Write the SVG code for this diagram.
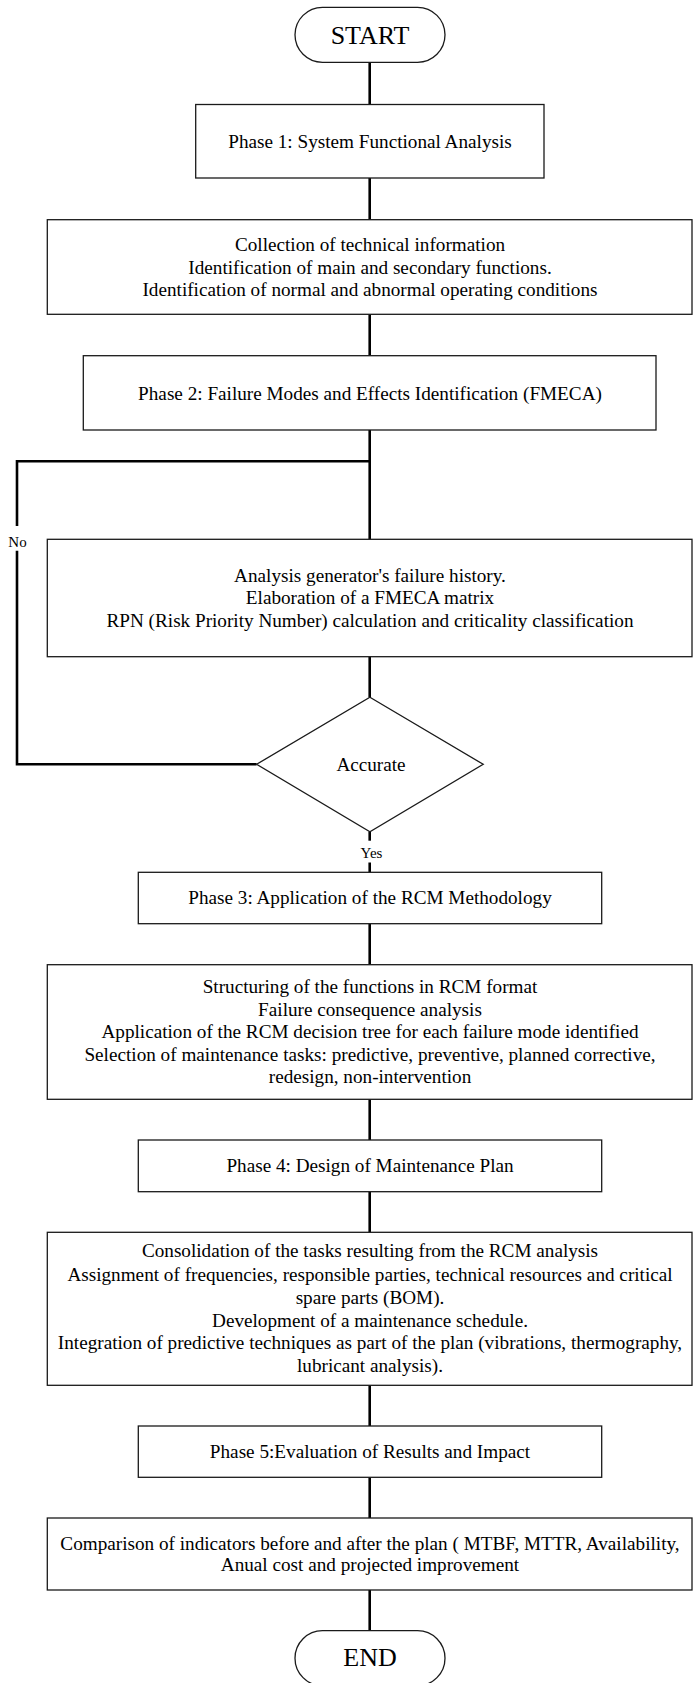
<svg xmlns="http://www.w3.org/2000/svg" width="697" height="1683" viewBox="0 0 697 1683">
<style>
.box{fill:#fff;stroke:#1a1a1a;stroke-width:1.3}
.con{fill:none;stroke:#000;stroke-width:2.6}
text{font-family:"Liberation Serif","Times New Roman",serif;fill:#000;text-anchor:middle}
.t{font-size:19.2px}
.big{font-size:26px}
.lbl{font-size:15px}
</style>
<rect x="0" y="0" width="697" height="1683" fill="#fff"/>
<g id="connectors">
<path class="con" d="M369.7 62.3V104.5"/>
<path class="con" d="M369.7 178V219.7"/>
<path class="con" d="M369.7 314.3V355.7"/>
<path class="con" d="M369.7 430V539.3"/>
<path class="con" d="M369.7 656.7V697.3"/>
<path class="con" d="M256.6 764.3H17V550.7"/>
<path class="con" d="M17 526V461.3H369.7"/>
<path class="con" d="M369.7 831.7V840.7"/>
<path class="con" d="M369.7 862.5V872.3"/>
<path class="con" d="M369.7 923.7V964.7"/>
<path class="con" d="M369.7 1099.3V1140"/>
<path class="con" d="M369.7 1191.7V1232.3"/>
<path class="con" d="M369.7 1385.3V1426"/>
<path class="con" d="M369.7 1477.3V1518"/>
<path class="con" d="M369.7 1590V1630.7"/>
<text class="lbl" x="17.5" y="546.7">No</text>
<text class="lbl" x="371.5" y="857.7">Yes</text>
</g>
<g id="start">
<rect class="box" x="295" y="7.3" width="150" height="55" rx="27.5"/>
<text class="big" x="370" y="44.3">START</text>
</g>
<g id="phase1">
<rect class="box" x="195.7" y="104.5" width="348.3" height="73.5"/>
<text class="t" x="370" y="148.3">Phase 1: System Functional Analysis</text>
</g>
<g id="functional-analysis">
<rect class="box" x="47.3" y="219.7" width="644.7" height="94.6"/>
<text class="t" x="370" y="251">Collection of technical information</text>
<text class="t" x="370" y="273.5">Identification of main and secondary functions.</text>
<text class="t" x="370" y="296">Identification of normal and abnormal operating conditions</text>
</g>
<g id="phase2">
<rect class="box" x="83.3" y="355.7" width="572.7" height="74.3"/>
<text class="t" x="370" y="400">Phase 2: Failure Modes and Effects Identification (FMECA)</text>
</g>
<g id="fmeca">
<rect class="box" x="47.3" y="539.3" width="644.7" height="117.4"/>
<text class="t" x="370" y="581.7">Analysis generator's failure history.</text>
<text class="t" x="370" y="604.3">Elaboration of a FMECA matrix</text>
<text class="t" x="370" y="626.7">RPN (Risk Priority Number) calculation and criticality classification</text>
</g>
<g id="accurate">
<polygon class="box" points="369.9,697.3 483.2,764.3 369.9,831.7 256.6,764.3"/>
<text class="t" x="371" y="771">Accurate</text>
</g>
<g id="phase3">
<rect class="box" x="138.3" y="872.3" width="463.4" height="51.4"/>
<text class="t" x="370" y="904.3">Phase 3: Application of the RCM Methodology</text>
</g>
<g id="rcm">
<rect class="box" x="47.3" y="964.7" width="644.7" height="134.6"/>
<text class="t" x="370" y="993.3">Structuring of the functions in RCM format</text>
<text class="t" x="370" y="1016">Failure consequence analysis</text>
<text class="t" x="370" y="1038.3">Application of the RCM decision tree for each failure mode identified</text>
<text class="t" x="370" y="1060.7">Selection of maintenance tasks: predictive, preventive, planned corrective,</text>
<text class="t" x="370" y="1082.7">redesign, non-intervention</text>
</g>
<g id="phase4">
<rect class="box" x="138.3" y="1140" width="463.4" height="51.7"/>
<text class="t" x="370" y="1172.3">Phase 4: Design of Maintenance Plan</text>
</g>
<g id="plan">
<rect class="box" x="47.3" y="1232.3" width="644.7" height="153"/>
<text class="t" x="370" y="1257.3">Consolidation of the tasks resulting from the RCM analysis</text>
<text class="t" x="370" y="1280.5">Assignment of frequencies, responsible parties, technical resources and critical</text>
<text class="t" x="370" y="1304">spare parts (BOM).</text>
<text class="t" x="370" y="1326.7">Development of a maintenance schedule.</text>
<text class="t" x="370" y="1349.3">Integration of predictive techniques as part of the plan (vibrations, thermography,</text>
<text class="t" x="370" y="1371.7">lubricant analysis).</text>
</g>
<g id="phase5">
<rect class="box" x="138.3" y="1426" width="463.4" height="51.3"/>
<text class="t" x="370" y="1458.3">Phase 5:Evaluation of Results and Impact</text>
</g>
<g id="evaluation">
<rect class="box" x="47.3" y="1518" width="644.7" height="72"/>
<text class="t" x="370" y="1550">Comparison of indicators before and after the plan ( MTBF, MTTR, Availability,</text>
<text class="t" x="370" y="1571">Anual cost and projected improvement</text>
</g>
<g id="end">
<rect class="box" x="295" y="1630.7" width="150" height="55" rx="27.5"/>
<text class="big" x="370" y="1666">END</text>
</g>
</svg>
